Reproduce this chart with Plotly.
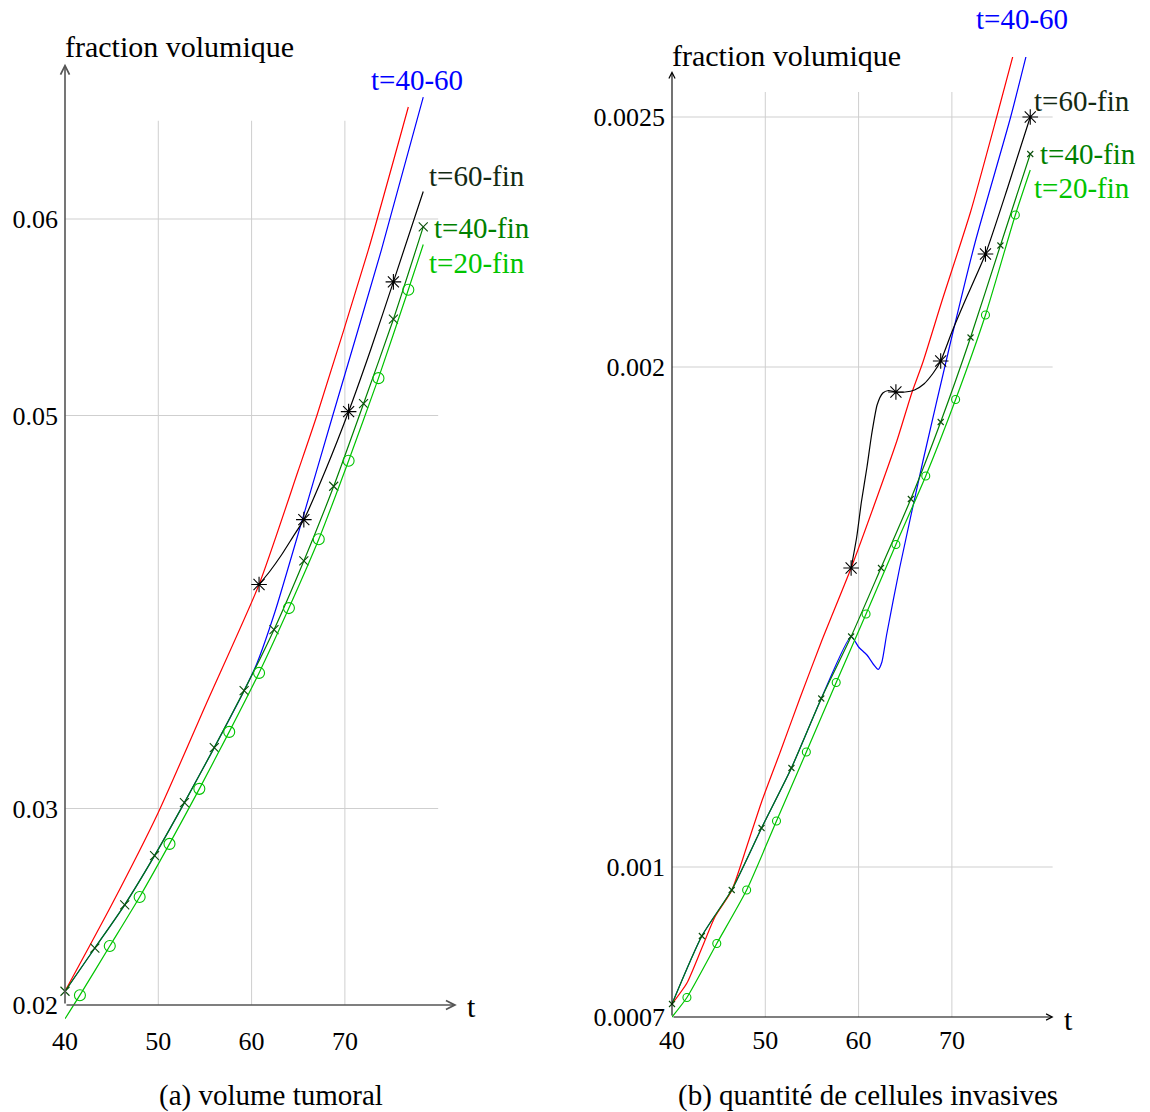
import plotly.graph_objects as go

# ---------------- Data: (a) volume tumoral ----------------
a_red_t = [40, 45, 50, 55.2, 60.8, 65, 67, 72.5, 76.8]
a_red_v = [0.0207, 0.0251, 0.0298, 0.0354, 0.0414, 0.0472, 0.0500, 0.0584, 0.0657]

a_blue_t = [40, 43.2, 46.4, 49.6, 52.8, 56.0, 59.2, 60.5, 62.5, 65.5, 68.7, 73.9, 78.4]
a_blue_v = [0.0207, 0.0229, 0.0251, 0.0276, 0.0303, 0.0331, 0.0360, 0.0373, 0.0400, 0.0448, 0.0500, 0.0584, 0.0662]

a_black_t = [60.8, 62.0, 63.2, 64.4, 65.6, 68.0, 70.4, 72.8, 75.2, 78.4]
a_black_v = [0.0414, 0.0421, 0.0429, 0.0438, 0.0447, 0.0473, 0.0502, 0.0534, 0.0568, 0.0614]
a_black_mark_t = [60.8, 65.6, 70.4, 75.2]
a_black_mark_v = [0.0414, 0.0447, 0.0502, 0.0568]

a_dg_t = [40, 43.2, 46.4, 49.6, 52.8, 56.0, 59.2, 62.4, 65.6, 68.8, 72.0, 75.2, 78.4]
a_dg_v = [0.0207, 0.0229, 0.0251, 0.0276, 0.0303, 0.0331, 0.0360, 0.0391, 0.0426, 0.0464, 0.0506, 0.0549, 0.0596]

a_lg_t = [40, 41.6, 44.8, 48.0, 51.2, 54.4, 57.6, 60.8, 64.0, 67.2, 70.4, 73.6, 76.8, 78.4]
a_lg_v = [0.0193, 0.0205, 0.0230, 0.0255, 0.0282, 0.0310, 0.0339, 0.0369, 0.0402, 0.0437, 0.0477, 0.0519, 0.0564, 0.0587]

a_yticks = [0.02, 0.03, 0.05, 0.06]
a_yticktext = ["0.02", "0.03", "0.05", "0.06"]

# ---------------- Data: (b) quantité de cellules invasives ----------------
b_red_t = [40, 41.6, 43.2, 44.6, 46.4, 48.0, 49.6, 51.6, 53.7, 56.0, 59.2, 61.6, 64.1, 65.7, 66.9, 68.9, 72.0, 74.8, 76.8]
b_red_v = [0.000726, 0.000768, 0.000838, 0.000900, 0.000953, 0.00104, 0.00113, 0.00123, 0.001337, 0.00145, 0.001598,
           0.00172, 0.001852, 0.001948, 0.00201, 0.00213, 0.00231, 0.00250, 0.00264]

b_blue_t = [40, 43.2, 46.4, 49.6, 52.8, 56.0, 59.2, 60.0, 60.9, 61.6, 62.1, 62.5, 63.0, 64.4, 66.9, 69.8, 72.5, 76.3, 78.4]
b_blue_v = [0.000726, 0.000862, 0.000954, 0.001078, 0.001198, 0.001337, 0.001461, 0.00144, 0.001424, 0.001405, 0.001395,
            0.00141, 0.001464, 0.001598, 0.001812, 0.002045, 0.00225, 0.0025, 0.002655]

b_black_t = [59.2, 59.8, 60.3, 60.9, 61.4, 62.0, 62.6, 63.2, 64.0, 65.0, 66.0, 67.0, 68.0, 68.8, 70.0, 71.4, 73.6, 76.0, 78.4]
b_black_v = [0.001598, 0.00166, 0.00173, 0.0018, 0.001865, 0.001925, 0.001948, 0.001953, 0.00195, 0.00195, 0.001954,
             0.001966, 0.001988, 0.002012, 0.00207, 0.002132, 0.002226, 0.00236, 0.0025]
b_black_mark_t = [59.2, 64.0, 68.8, 73.6, 78.4]
b_black_mark_v = [0.001598, 0.00195, 0.002012, 0.002226, 0.0025]

b_dg_t = [40, 43.2, 46.4, 49.6, 52.8, 56.0, 59.2, 62.4, 65.6, 68.8, 72.0, 75.2, 78.4]
b_dg_v = [0.000726, 0.000862, 0.000954, 0.001078, 0.001198, 0.001337, 0.001461, 0.001598, 0.001736, 0.00189, 0.002059,
          0.002243, 0.002426]

b_lg_t = [40, 41.6, 44.8, 48.0, 51.2, 54.4, 57.6, 60.8, 64.0, 67.2, 70.4, 73.6, 76.8, 78.4]
b_lg_v = [0.0007, 0.000739, 0.000847, 0.000954, 0.001092, 0.00123, 0.001369, 0.001506, 0.001645, 0.001782, 0.001935,
          0.002104, 0.002304, 0.002394]

b_yticks = [0.0007, 0.001, 0.002, 0.0025]
b_yticktext = ["0.0007", "0.001", "0.002", "0.0025"]

xticks = [40, 50, 60, 70]
xticktext = ["40", "50", "60", "70"]
grid_x = [50, 60, 70]
a_grid_y = [0.03, 0.05, 0.06]
b_grid_y = [0.001, 0.002, 0.0025]

labels = ["t=40-60", "t=60-fin", "t=40-fin", "t=20-fin"]

# ---------------- Styles ----------------
FONT = "Liberation Serif"
RED = "#ff0000"
BLUE = "#0000ff"
BLACK = "#000000"
DGREEN = "#008000"
LGREEN = "#00c400"
GRID = "#cfcfcf"

W, H = 1150, 1112

fig = go.Figure()

def add_series(xa, ya, t, v, color, name):
    fig.add_trace(go.Scatter(x=t, y=v, mode="lines", xaxis=xa, yaxis=ya,
                             line=dict(color=color, width=1.2, shape="spline", smoothing=0.6),
                             showlegend=False, hoverinfo="skip", name=name))

def add_marks(xa, ya, t, v, color, symbol, size, lw=1.1):
    fig.add_trace(go.Scatter(x=t, y=v, mode="markers", xaxis=xa, yaxis=ya, cliponaxis=False,
                             marker=dict(symbol=symbol, size=size, color=color,
                                         line=dict(color=color, width=lw)),
                             showlegend=False, hoverinfo="skip"))

# panel (a)
add_series("x", "y", a_blue_t, a_blue_v, BLUE, "t=40-60")
add_series("x", "y", a_red_t, a_red_v, RED, "ref")
add_series("x", "y", a_black_t, a_black_v, BLACK, "t=60-fin")
add_marks("x", "y", a_black_mark_t, a_black_mark_v, BLACK, "asterisk-open", 13)
add_series("x", "y", a_dg_t, a_dg_v, DGREEN, "t=40-fin")
add_marks("x", "y", a_dg_t, a_dg_v, "#0b4d0b", "x-thin-open", 9)
add_series("x", "y", a_lg_t, a_lg_v, LGREEN, "t=20-fin")
add_marks("x", "y", a_lg_t[1:-1], a_lg_v[1:-1], LGREEN, "circle-open", 11)

# panel (b)
add_series("x2", "y2", b_blue_t, b_blue_v, BLUE, "t=40-60")
add_series("x2", "y2", b_red_t, b_red_v, RED, "ref")
add_series("x2", "y2", b_black_t, b_black_v, BLACK, "t=60-fin")
add_marks("x2", "y2", b_black_mark_t, b_black_mark_v, BLACK, "asterisk-open", 13)
add_series("x2", "y2", b_dg_t, b_dg_v, DGREEN, "t=40-fin")
add_marks("x2", "y2", b_dg_t, b_dg_v, "#0b4d0b", "x-thin-open", 6)
add_series("x2", "y2", b_lg_t, b_lg_v, LGREEN, "t=20-fin")
add_marks("x2", "y2", b_lg_t[1:-1], b_lg_v[1:-1], LGREEN, "circle-open", 8)

# ---------------- Grid shapes ----------------
shapes = []
def grid(xref, yref, gx, gy, x0, x1, y0, y1):
    for xv in gx:
        shapes.append(dict(type="line", xref=xref, yref=yref, x0=xv, x1=xv, y0=y0, y1=y1,
                           line=dict(color=GRID, width=1), layer="below"))
    for yv in gy:
        shapes.append(dict(type="line", xref=xref, yref=yref, x0=x0 - 0.5, x1=x1, y0=yv, y1=yv,
                           line=dict(color=GRID, width=1), layer="below"))

grid("x", "y", grid_x, a_grid_y, 40, 80, 0.02, 0.065)
grid("x2", "y2", grid_x, b_grid_y, 40, 80.8, 0.0007, 0.00255)

# ---------------- Axis arrows ----------------
annotations = []
def arrow(xref, yref, x0, y0, x1, y1, color, width):
    annotations.append(dict(x=x1, y=y1, ax=x0, ay=y0, xref=xref, yref=yref, axref=xref, ayref=yref,
                            text="", showarrow=True, arrowhead=5, arrowsize=1.1,
                            arrowwidth=width, arrowcolor=color, standoff=0, startstandoff=0))

arrow("x", "y", 40, 0.02, 82.0, 0.02, "#555555", 1.6)
arrow("x", "y", 40, 0.02, 40, 0.0679, "#555555", 1.6)
arrow("x2", "y2", 40, 0.0007, 80.9, 0.0007, BLACK, 1.1)
arrow("x2", "y2", 40, 0.0007, 40, 0.002592, BLACK, 1.1)

def txt(px, py, text, color=BLACK, size=29, xanchor="left"):
    annotations.append(dict(x=px / W, y=1 - py / H, xref="paper", yref="paper", text=text,
                            showarrow=False, xanchor=xanchor, yanchor="middle",
                            font=dict(family=FONT, size=size, color=color)))

# panel (a) texts
txt(63, 47, "fraction volumique", size=30)
txt(465, 1006, "t", size=30)
txt(369, 80, labels[0], BLUE)
txt(427, 176, labels[1], "#132a13")
txt(432, 228, labels[2], DGREEN)
txt(427, 263, labels[3], LGREEN)
txt(271, 1095, "(a) volume tumoral", xanchor="center", size=29)

# panel (b) texts
txt(670, 55, "fraction volumique", size=30)
txt(1062, 1019, "t", size=30)
txt(974, 19, labels[0], BLUE)
txt(1032, 101, labels[1], "#132a13")
txt(1038, 154, labels[2], DGREEN)
txt(1032, 188, labels[3], LGREEN)
txt(868, 1095, "(b) quantité de cellules invasives", xanchor="center", size=29)

# ---------------- Axes ----------------
axis_common = dict(showgrid=False, zeroline=False, showline=False, ticks="", automargin=False,
                   tickfont=dict(family=FONT, size=26, color=BLACK), fixedrange=True)

fig.update_layout(
    width=W, height=H,
    margin=dict(l=0, r=0, t=0, b=0, pad=0, autoexpand=False),
    paper_bgcolor="white", plot_bgcolor="white",
    showlegend=False,
    xaxis=dict(domain=[65 / W, 461.5 / W], range=[40, 82.5], anchor="y",
               tickvals=xticks, ticktext=xticktext, **axis_common),
    yaxis=dict(domain=[1 - 1022.7 / H, 1 - 61.8 / H], range=[0.0191, 0.068], anchor="x",
               tickvals=a_yticks, ticktext=a_yticktext, ticklabelstandoff=6, **axis_common),
    xaxis2=dict(domain=[672 / W, 1068.5 / W], range=[40, 82.5], anchor="y2",
                tickvals=xticks, ticktext=xticktext, **axis_common),
    yaxis2=dict(domain=[1 - 1022 / H, 1 - 57 / H], range=[0.00069, 0.00262], anchor="x2",
                tickvals=b_yticks, ticktext=b_yticktext, ticklabelstandoff=6, **axis_common),
    shapes=shapes,
    annotations=annotations,
)

fig.write_html("out.html", config={"displayModeBar": False, "staticPlot": True},
               post_script="document.body.style.margin='0';document.body.style.overflow='hidden';")
